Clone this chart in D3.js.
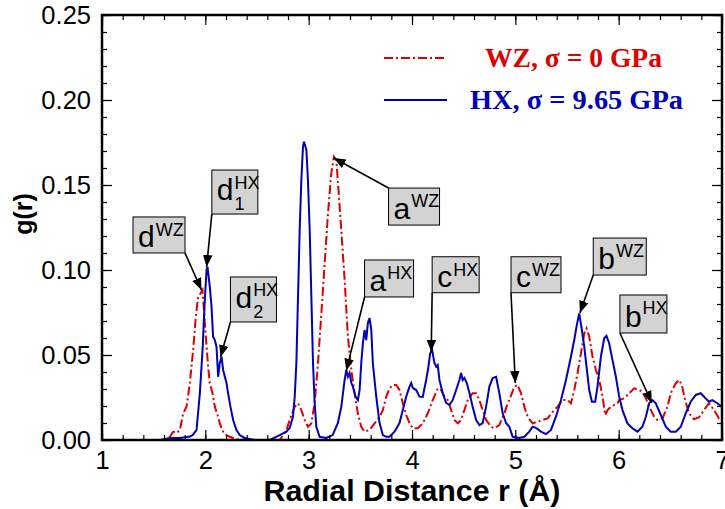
<!DOCTYPE html>
<html><head><meta charset="utf-8">
<script src="https://cdn.jsdelivr.net/npm/d3@7"></script>
<style>
html,body{margin:0;padding:0;background:#fff;}
svg{display:block;}
</style></head>
<body>
<svg id="chart" width="725" height="509"></svg>
<script>
// ---- data ----
const xTicks = [1, 2, 3, 4, 5, 6, 7];
const yTicks = [0.00, 0.05, 0.10, 0.15, 0.20, 0.25];
const seriesNames = ["WZ, \u03C3 = 0 GPa", "HX, \u03C3 = 9.65 GPa"];

// WZ (sigma = 0 GPa): [r (Å), g(r)]
const wzData = [
[1.0,0],[1.62,0],[1.657,0.0019],[1.689,0.0049],[1.722,0.0041],[1.754,0.0059],[1.786,0.0157],[1.818,0.0196],
[1.850,0.0334],[1.882,0.0529],[1.908,0.0725],[1.930,0.0843],[1.954,0.0863],[1.973,0.0882],[1.986,0.0765],
[2.005,0.0608],[2.027,0.0431],[2.043,0.0334],[2.070,0.0275],[2.092,0.0196],[2.124,0.0137],[2.140,0.0098],
[2.172,0.0049],[2.205,0.0029],[2.237,0.0019],[2.285,0.0006],[2.40,0],[2.72,0],
[2.785,0.0059],[2.816,0.0118],[2.865,0.0196],[2.897,0.0216],[2.929,0.0176],[2.961,0.0118],[2.993,0.0078],
[3.026,0.0098],[3.058,0.0216],[3.090,0.0451],[3.123,0.0745],[3.155,0.1039],[3.187,0.1333],[3.219,0.1569],
[3.244,0.1667],[3.268,0.1647],[3.293,0.1431],[3.316,0.1235],[3.348,0.0941],[3.380,0.0608],[3.413,0.0412],
[3.444,0.0275],[3.476,0.0157],[3.509,0.0078],[3.541,0.0049],[3.589,0.0059],[3.638,0.0098],[3.686,0.0137],
[3.718,0.0176],[3.751,0.0255],[3.783,0.0304],[3.815,0.0324],[3.847,0.0324],[3.879,0.0294],[3.911,0.0216],
[3.944,0.0147],[3.976,0.0098],[4.008,0.0069],[4.057,0.0069],[4.104,0.0098],[4.153,0.0157],[4.201,0.0235],
[4.249,0.0304],[4.282,0.0294],[4.314,0.0255],[4.346,0.0235],[4.379,0.0176],[4.411,0.0118],[4.443,0.0098],
[4.475,0.0118],[4.507,0.0176],[4.539,0.0235],[4.587,0.0275],[4.620,0.0275],[4.652,0.0235],[4.684,0.0176],
[4.717,0.0118],[4.765,0.0078],[4.797,0.0069],[4.845,0.0088],[4.894,0.0157],[4.926,0.0216],[4.942,0.0235],
[4.990,0.0314],[5.022,0.0324],[5.055,0.0275],[5.087,0.0196],[5.119,0.0137],[5.167,0.0098],[5.216,0.0108],
[5.264,0.0118],[5.312,0.0127],[5.361,0.0166],[5.409,0.0196],[5.457,0.0235],[5.505,0.0235],[5.538,0.0216],
[5.570,0.0294],[5.602,0.0392],[5.635,0.0510],[5.667,0.0627],[5.689,0.0657],[5.715,0.0608],[5.747,0.0490],
[5.780,0.0412],[5.812,0.0353],[5.844,0.0255],[5.870,0.0147],[5.892,0.0176],[5.925,0.0196],[5.957,0.0206],
[5.989,0.0216],[6.005,0.0235],[6.053,0.0245],[6.101,0.0275],[6.150,0.0304],[6.198,0.0294],[6.230,0.0284],
[6.263,0.0245],[6.295,0.0196],[6.343,0.0137],[6.375,0.0118],[6.424,0.0127],[6.472,0.0196],[6.504,0.0275],
[6.553,0.0334],[6.585,0.0353],[6.611,0.0324],[6.643,0.0235],[6.681,0.0157],[6.729,0.0122],[6.778,0.0134],
[6.826,0.0176],[6.874,0.0216],[6.923,0.0176],[6.971,0.0127],[7.0,0.0118]
];

// HX (sigma = 9.65 GPa): [r (Å), g(r)]
const hxData = [
[1.0,0],[1.56,0],[1.657,0.0012],[1.754,0.0012],[1.850,0.002],[1.879,0.003],[1.915,0.0059],[1.947,0.0276],
[1.973,0.0529],[1.995,0.0824],[2.012,0.1000],[2.021,0.1019],[2.043,0.0902],[2.060,0.0784],[2.075,0.0608],
[2.092,0.0588],[2.108,0.0549],[2.124,0.0372],[2.140,0.0453],[2.157,0.0490],[2.172,0.0412],[2.205,0.0335],
[2.220,0.0276],[2.243,0.0196],[2.269,0.0118],[2.301,0.0059],[2.333,0.0029],[2.382,0.0012],[2.478,0],
[2.623,0],[2.720,0.0029],[2.785,0.0049],[2.816,0.0071],[2.848,0.0137],[2.865,0.0255],[2.881,0.0453],
[2.897,0.0843],[2.913,0.1235],[2.929,0.1529],[2.945,0.1725],[2.955,0.1755],[2.978,0.1706],[2.993,0.1529],
[3.010,0.1235],[3.026,0.0843],[3.042,0.0453],[3.058,0.0218],[3.074,0.0078],[3.106,0.0019],[3.171,0.0012],
[3.232,0.0029],[3.283,0.0100],[3.316,0.0196],[3.348,0.0353],[3.364,0.0412],[3.380,0.0372],[3.396,0.0394],
[3.413,0.0335],[3.428,0.0314],[3.454,0.0255],[3.476,0.0235],[3.493,0.0294],[3.509,0.0453],[3.525,0.0571],
[3.541,0.0647],[3.557,0.0588],[3.573,0.0688],[3.589,0.0718],[3.606,0.0647],[3.621,0.0453],[3.654,0.0255],
[3.686,0.0100],[3.718,0.0029],[3.751,0.0019],[3.783,0.0019],[3.831,0.0049],[3.879,0.0100],[3.911,0.0176],
[3.944,0.0255],[3.976,0.0314],[3.992,0.0335],[4.008,0.0306],[4.041,0.0294],[4.072,0.0255],[4.104,0.0253],
[4.137,0.0353],[4.159,0.0431],[4.176,0.0510],[4.195,0.0529],[4.217,0.0453],[4.234,0.0431],[4.249,0.0441],
[4.266,0.0353],[4.298,0.0274],[4.330,0.0218],[4.362,0.0206],[4.394,0.0235],[4.427,0.0294],[4.459,0.0353],
[4.475,0.0394],[4.491,0.0353],[4.507,0.0365],[4.530,0.0335],[4.556,0.0276],[4.587,0.0196],[4.620,0.0118],
[4.652,0.0088],[4.684,0.0100],[4.717,0.0196],[4.749,0.0314],[4.781,0.0365],[4.814,0.0372],[4.845,0.0276],
[4.877,0.0159],[4.910,0.0100],[4.942,0.0078],[4.974,0.0019],[5.039,0.0012],[5.087,0.0019],[5.135,0.0049],
[5.167,0.0078],[5.200,0.0071],[5.248,0.0049],[5.297,0.0035],[5.345,0.0059],[5.393,0.0137],[5.442,0.0235],
[5.490,0.0353],[5.538,0.0490],[5.570,0.0588],[5.592,0.0666],[5.618,0.0745],[5.644,0.0647],[5.667,0.0549],
[5.689,0.0431],[5.715,0.0294],[5.741,0.0225],[5.773,0.0225],[5.795,0.0314],[5.828,0.0490],[5.860,0.0598],
[5.882,0.0612],[5.908,0.0569],[5.940,0.0471],[5.973,0.0372],[6.005,0.0255],[6.037,0.0176],[6.085,0.0098],
[6.133,0.0069],[6.182,0.0049],[6.230,0.0078],[6.263,0.0137],[6.295,0.0216],[6.327,0.0235],[6.359,0.0216],
[6.408,0.0147],[6.456,0.0078],[6.504,0.0049],[6.553,0.0049],[6.601,0.0078],[6.649,0.0157],[6.697,0.0225],
[6.746,0.0265],[6.794,0.0275],[6.842,0.0245],[6.874,0.0225],[6.906,0.0235],[6.955,0.0216],[7.0,0.0194]
];

// annotations: label, superscript, subscript, arrow tip (r,g), box anchor (r,g top-left)
const annLabels = ["d","d","d","a","a","c","c","b","b"];
const annSup    = ["WZ","HX","HX","WZ","HX","HX","WZ","WZ","HX"];
const annSub    = ["","1","2","","","","","",""];
const annTipR   = [1.963, 2.012, 2.147, 3.242, 3.364, 4.186, 5.000, 5.625, 6.321];
const annTipG   = [0.0882,0.1018,0.0488,0.1659,0.0408,0.0519,0.0335,0.0747,0.0218];
const annBoxR   = [1.300, 2.063, 2.243, 3.773, 3.541, 4.195, 4.958, 5.754, 6.012];
const annBoxG   = [0.1312,0.1588,0.0959,0.1482,0.1059,0.1078,0.1078,0.1188,0.0853];
const annTail   = ["br","bl","bl","tl","bl","bl","bl","bl","bl"];

// ---- drawing ----
const svg = d3.select("#chart");
const L = 102, R = 722, T = 15, B = 440;
const x = d3.scaleLinear().domain([1,7]).range([L,R]);
const y = d3.scaleLinear().domain([0,0.25]).range([B,T]);

const RED = "#dd0000", BLUE = "#0000b4";
const tickFont = "'Liberation Sans', Arial, Helvetica, sans-serif";

svg.append("defs").append("clipPath").attr("id","clip")
  .append("rect").attr("x",L).attr("y",T).attr("width",R-L).attr("height",B-T);
const mk = svg.select("defs").append("marker").attr("id","arr")
  .attr("viewBox","0 0 10 10").attr("refX",10).attr("refY",5)
  .attr("markerWidth",12).attr("markerHeight",12).attr("markerUnits","userSpaceOnUse")
  .attr("orient","auto");
mk.append("path").attr("d","M0,1 L10,5 L0,9 Z").attr("fill","#000");

// ticks (inward on all four sides)
const xMinor = d3.range(1, 7.0001, 0.2);
const yMinor = d3.range(0, 0.25001, 0.01);
function tickAxis(gen, scale, ticks, len) {
  return gen(scale).tickValues(ticks).tickSize(len).tickFormat("");
}
const axG = svg.append("g");
axG.append("g").attr("transform",`translate(0,${B})`).call(tickAxis(d3.axisTop, x, xMinor, 5));
axG.append("g").attr("transform",`translate(0,${B})`).call(tickAxis(d3.axisTop, x, xTicks, 10));
axG.append("g").attr("transform",`translate(0,${T})`).call(tickAxis(d3.axisBottom, x, xMinor, 5));
axG.append("g").attr("transform",`translate(0,${T})`).call(tickAxis(d3.axisBottom, x, xTicks, 10));
axG.append("g").attr("transform",`translate(${L},0)`).call(tickAxis(d3.axisRight, y, yMinor, 5));
axG.append("g").attr("transform",`translate(${L},0)`).call(tickAxis(d3.axisRight, y, yTicks, 10));
axG.append("g").attr("transform",`translate(${R},0)`).call(tickAxis(d3.axisLeft, y, yMinor, 5));
axG.append("g").attr("transform",`translate(${R},0)`).call(tickAxis(d3.axisLeft, y, yTicks, 10));
axG.selectAll(".domain").remove();
axG.selectAll(".tick line").attr("stroke","#000").attr("stroke-width",1.2);

// tick labels
const xl = svg.append("g").attr("transform",`translate(0,${B})`)
  .call(d3.axisBottom(x).tickValues(xTicks).tickSize(0).tickPadding(11).tickFormat(d3.format("d")));
xl.select(".domain").remove();
xl.selectAll("text").attr("font-family",tickFont).attr("font-size",25.5).attr("fill","#000");
const yl = svg.append("g").attr("transform",`translate(${L},0)`)
  .call(d3.axisLeft(y).tickValues(yTicks).tickSize(0).tickPadding(11).tickFormat(d3.format(".2f")));
yl.select(".domain").remove();
yl.selectAll("text").attr("font-family",tickFont).attr("font-size",25.5).attr("fill","#000");

// curves
const line = d3.line().x(d=>x(d[0])).y(d=>y(d[1]));
const plot = svg.append("g").attr("clip-path","url(#clip)");
plot.append("path").datum(wzData).attr("d",line).attr("fill","none")
  .attr("stroke",RED).attr("stroke-width",2).attr("stroke-dasharray","9,3,2,3");
plot.append("path").datum(hxData).attr("d",line).attr("fill","none")
  .attr("stroke",BLUE).attr("stroke-width",2);

// frame
svg.append("rect").attr("x",L).attr("y",T).attr("width",R-L).attr("height",B-T)
  .attr("fill","none").attr("stroke","#000").attr("stroke-width",2.5);

// axis titles
svg.append("text").attr("x",(L+R)/2).attr("y",501).attr("text-anchor","middle")
  .attr("font-family","'Liberation Sans Narrow', 'Liberation Sans', Arial, sans-serif")
  .attr("font-weight","bold").attr("font-size",29)
  .attr("textLength",297).attr("lengthAdjust","spacingAndGlyphs")
  .text("Radial Distance r (\u00C5)");
svg.append("text").attr("transform","translate(32,214) rotate(-90)").attr("text-anchor","middle")
  .attr("font-family","'Liberation Sans Narrow', 'Liberation Sans', Arial, sans-serif")
  .attr("font-weight","bold").attr("font-size",25)
  .text("g(r)");

// legend
const legColors = [RED, BLUE];
const legY = [58, 100];
const legTextX = [485, 470];
const legTextW = [177, 213];
const leg = svg.append("g");
seriesNames.forEach((name,i)=>{
  leg.append("line").attr("x1",384).attr("x2",447).attr("y1",legY[i]).attr("y2",legY[i])
    .attr("stroke",legColors[i]).attr("stroke-width",2)
    .attr("stroke-dasharray", i===0 ? "9,3,2,3" : null);
  leg.append("text").attr("x",legTextX[i]).attr("y",legY[i]+9)
    .attr("font-family","'Liberation Serif', 'Times New Roman', serif")
    .attr("font-weight","bold").attr("font-size",27).attr("fill",legColors[i])
    .attr("textLength",legTextW[i]).attr("lengthAdjust","spacingAndGlyphs")
    .text(name);
});

// annotations
const boxW = [52,46,46,51,49,47,50,53,47];
const boxH = [36,44,45,37,37,36,36,37,38];
const ann = svg.append("g");
annLabels.forEach((lab,i)=>{
  const bx = x(annBoxR[i]), by = y(annBoxG[i]);
  const w = boxW[i], h = boxH[i];
  let tx, ty;
  if (annTail[i]==="br") { tx = bx+w; ty = by+h; }
  else if (annTail[i]==="tl") { tx = bx; ty = by; }
  else { tx = bx; ty = by+h; }
  ann.append("line").attr("x1",tx).attr("y1",ty).attr("x2",x(annTipR[i])).attr("y2",y(annTipG[i]))
    .attr("stroke","#000").attr("stroke-width",1.6).attr("marker-end","url(#arr)");
  ann.append("rect").attr("x",bx).attr("y",by).attr("width",w).attr("height",h)
    .attr("fill","#d3d3d3").attr("stroke","#000").attr("stroke-width",1);
  const hasSub = annSub[i] !== "";
  const main = ann.append("text").attr("x",bx+5).attr("y", hasSub ? by+h-14 : by+h-6)
    .attr("font-family",tickFont).attr("font-size",30).attr("fill","#000").text(lab);
  const mw = main.node().getComputedTextLength();
  ann.append("text").attr("x",bx+5+mw+1).attr("y",by+19)
    .attr("font-family",tickFont).attr("font-size",18).attr("fill","#000").text(annSup[i]);
  if (hasSub) {
    ann.append("text").attr("x",bx+5+mw+1).attr("y",by+h-4)
      .attr("font-family",tickFont).attr("font-size",18).attr("fill","#000").text(annSub[i]);
  }
});
</script>
</body></html>
